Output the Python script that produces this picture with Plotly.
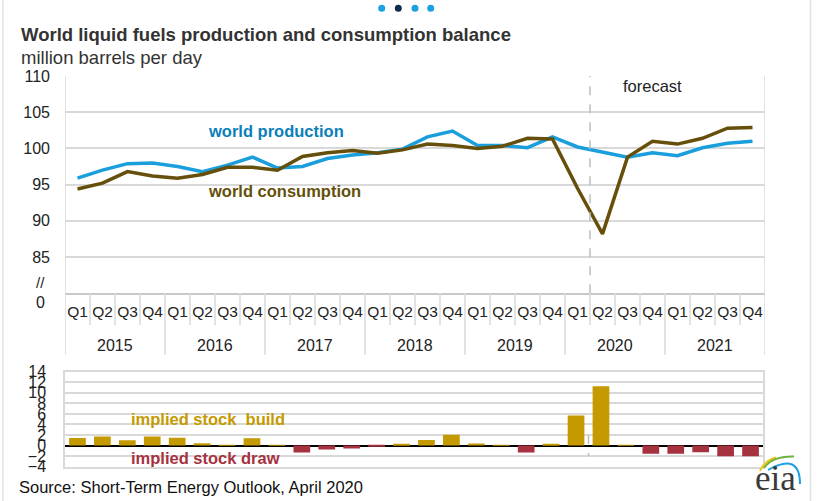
import plotly.graph_objects as go

# ---------------- data ----------------
years = ["2015", "2016", "2017", "2018", "2019", "2020", "2021"]
quarters = ["Q1", "Q2", "Q3", "Q4"]

# world production, million barrels per day (quarterly, 2015Q1..2021Q4)
production = [95.9, 97.0, 97.9, 98.0,
              97.5, 96.8, 97.7, 98.8,
              97.3, 97.5, 98.6, 99.1,
              99.4, 99.9, 101.6, 102.4,
              100.4, 100.4, 100.1, 101.6,
              100.2, 99.5, 98.8, 99.4,
              99.0, 100.1, 100.7, 101.0]

# world consumption
consumption = [94.4, 95.2, 96.8, 96.2,
               95.9, 96.4, 97.4, 97.4,
               97.0, 98.9, 99.4, 99.7,
               99.35, 99.8, 100.6, 100.4,
               100.0, 100.3, 101.4, 101.3,
               94.5, 88.2, 98.8, 101.0,
               100.6, 101.4, 102.8, 102.9]

# implied stock change (build > 0, draw < 0)
stock_change = [1.45, 1.7, 1.0, 1.7,
                1.5, 0.45, 0.05, 1.4,
                0.1, -1.3, -0.75, -0.55,
                -0.05, 0.2, 1.05, 2.05,
                0.4, 0.05, -1.3, 0.25,
                5.7, 11.25, 0.05, -1.55,
                -1.55, -1.25, -2.0, -2.0]

top_ticks = [85, 90, 95, 100, 105, 110]
forecast_start = 21  # index of first forecast quarter (2020 Q2)

# ---------------- styling ----------------
W, H = 825, 501
FONT = "Liberation Sans, Arial, sans-serif"
BLUE = "#1a9fdc"
BROWN = "#654f0a"
GOLD = "#c49a00"
MAROON = "#a6323f"
GRID = "#d9d9d9"
TXT = "#222222"


def px(x):
    return x / W


def py(y):
    return 1 - y / H


X0, X1 = 65, 765
TOP_Y0, TOP_Y1 = 76, 293.3
BOT_Y0, BOT_Y1 = 371.7, 466.7

n = len(production)
idx = list(range(n))
qlabels = [quarters[i % 4] for i in idx]

fig = go.Figure()
fig.add_trace(go.Scatter(x=idx, y=production, mode="lines",
                         line=dict(color=BLUE, width=3.5), xaxis="x", yaxis="y",
                         name="world production"))
fig.add_trace(go.Scatter(x=idx, y=consumption, mode="lines",
                         line=dict(color=BROWN, width=3.5), xaxis="x", yaxis="y",
                         name="world consumption"))
fig.add_trace(go.Bar(x=idx, y=stock_change, width=0.67,
                     marker=dict(color=[GOLD if v >= 0 else MAROON for v in stock_change],
                                 line=dict(width=0)),
                     xaxis="x2", yaxis="y2", name="implied stock change"))

shapes = []
# quarter / year separators below the top panel
for b in range(n + 1):
    xb = b - 0.5
    if b % 4 == 0:
        y_low = 355
        y_high = TOP_Y0 if b in (0, n) else TOP_Y1
    else:
        y_low = 325
        y_high = TOP_Y1
    shapes.append(dict(type="line", xref="x", yref="paper", x0=xb, x1=xb,
                       y0=py(y_low), y1=py(y_high), line=dict(color=GRID, width=1.5)))
# forecast dashed line
shapes.append(dict(type="line", xref="x", yref="paper", x0=forecast_start - 0.5,
                   x1=forecast_start - 0.5, y0=py(TOP_Y1), y1=py(TOP_Y0),
                   line=dict(color="#bdbdbd", width=1.5, dash="dash")))
shapes.append(dict(type="line", xref="x2", yref="y2", x0=forecast_start - 0.5,
                   x1=forecast_start - 0.5, y0=2, y1=-2,
                   line=dict(color="#bdbdbd", width=1.5, dash="dash")))
# page borders
shapes.append(dict(type="line", xref="paper", yref="paper", x0=px(3), x1=px(3), y0=0, y1=1,
                   line=dict(color="#e3e3e3", width=1.5)))
shapes.append(dict(type="line", xref="paper", yref="paper", x0=px(810.5), x1=px(810.5), y0=0, y1=1,
                   line=dict(color="#e3e3e3", width=1.5)))
# pagination dots
for i, cx in enumerate([381.7, 398.3, 415, 430.7]):
    col = "#0d2d4a" if i == 1 else "#1ba1e2"
    shapes.append(dict(type="circle", xref="paper", yref="paper",
                       x0=px(cx - 3.5), x1=px(cx + 3.5), y0=py(8.3 + 3.5), y1=py(8.3 - 3.5),
                       fillcolor=col, line=dict(width=0)))


def qpath(p0, c, p1):
    return "M {} {} Q {} {} {} {}".format(px(p0[0]), py(p0[1]), px(c[0]), py(c[1]),
                                          px(p1[0]), py(p1[1]))


# eia logo arcs
shapes.append(dict(type="path", xref="paper", yref="paper",
                   path=qpath((760, 471), (764, 461), (776, 457.5)),
                   line=dict(color="#f2c511", width=2)))
shapes.append(dict(type="path", xref="paper", yref="paper",
                   path=qpath((764, 468), (772, 456), (794, 456.5)),
                   line=dict(color="#6db33f", width=2)))
shapes.append(dict(type="path", xref="paper", yref="paper",
                   path=qpath((768, 470), (800, 452), (800, 484)),
                   line=dict(color="#1ba1e2", width=2)))

ann = []
# title & subtitle
ann.append(dict(text="<b>World liquid fuels production and consumption balance</b>",
                x=px(19), y=py(34), xanchor="left", yanchor="middle", showarrow=False,
                font=dict(size=18.5, color="#333333")))
ann.append(dict(text="million barrels per day", x=px(19), y=py(57), xanchor="left",
                yanchor="middle", showarrow=False, font=dict(size=18.5, color="#333333")))
# year labels
for k, yr in enumerate(years):
    ann.append(dict(text=yr, xref="x", yref="paper", x=4 * k + 1.5, y=py(345),
                    xanchor="center", yanchor="middle", showarrow=False,
                    font=dict(size=16, color=TXT)))
# axis break marks
ann.append(dict(text="//", x=px(40.5), y=py(282), xanchor="center", yanchor="middle",
                showarrow=False, font=dict(size=15, color=TXT)))
ann.append(dict(text="0", x=px(40.5), y=py(302), xanchor="center", yanchor="middle",
                showarrow=False, font=dict(size=16, color=TXT)))
# series labels
ann.append(dict(text="<b>world production</b>", x=px(206), y=py(131), xanchor="left",
                yanchor="middle", showarrow=False, font=dict(size=16.5, color="#0b7fba")))
ann.append(dict(text="<b>world consumption</b>", x=px(206), y=py(191), xanchor="left",
                yanchor="middle", showarrow=False, font=dict(size=16.5, color=BROWN)))
ann.append(dict(text="forecast", x=px(652), y=py(86), xanchor="center", yanchor="middle",
                showarrow=False, font=dict(size=16.5, color=TXT)))
ann.append(dict(text="<b>implied stock&nbsp; build</b>", x=px(129), y=py(419), xanchor="left",
                yanchor="middle", showarrow=False, font=dict(size=16.5, color=GOLD)))
ann.append(dict(text="<b>implied stock draw</b>", x=px(129), y=py(458), xanchor="left",
                yanchor="middle", showarrow=False, font=dict(size=16.5, color=MAROON)))
ann.append(dict(text="Source: Short-Term Energy Outlook, April 2020", x=px(17), y=py(487),
                xanchor="left", yanchor="middle", showarrow=False,
                font=dict(size=16.5, color="#111111")))
ann.append(dict(text="eia", x=px(775.5), y=py(500), xanchor="center", yanchor="bottom",
                showarrow=False, font=dict(size=35, color="#3a3a3a",
                                           family="Liberation Serif, serif")))
for a in ann:
    a.setdefault("xref", "paper")
    a.setdefault("yref", "paper")

fig.update_layout(
    width=W, height=H,
    margin=dict(l=0, r=0, t=0, b=0),
    paper_bgcolor="white", plot_bgcolor="white",
    showlegend=False,
    font=dict(family=FONT, color=TXT),
    xaxis=dict(domain=[px(X0), px(X1)], range=[-0.5, n - 0.5], anchor="y",
               tickmode="array", tickvals=idx, ticktext=qlabels,
               tickfont=dict(size=15.5, color=TXT), ticks="", ticklabelstandoff=3,
               showgrid=False, zeroline=False, automargin=False,
               showline=True, linecolor="#c8c8c8", linewidth=1.5),
    yaxis=dict(domain=[py(TOP_Y1), py(TOP_Y0)], range=[80, 110], anchor="x",
               tickmode="array", tickvals=top_ticks, automargin=False,
               tickfont=dict(size=16, color=TXT), ticks="", ticklabelstandoff=14,
               showgrid=True, gridcolor=GRID, gridwidth=1.5, zeroline=False,
               showline=False),
    xaxis2=dict(domain=[px(X0), px(X1 - 2)], range=[-0.5, n - 0.5], anchor="y2",
                showticklabels=False, ticks="", showgrid=False, zeroline=False,
                automargin=False,
                showline=True, mirror=True, linecolor=GRID, linewidth=1.5),
    yaxis2=dict(domain=[py(BOT_Y1), py(BOT_Y0)], range=[-4, 14], anchor="x2",
                tickmode="linear", tick0=0, dtick=2, automargin=False,
                tickfont=dict(size=16, color=TXT), ticks="", ticklabelstandoff=14,
                showgrid=True, gridcolor=GRID, gridwidth=1.5,
                zeroline=True, zerolinecolor="#000000", zerolinewidth=1.5,
                showline=True, mirror=True, linecolor=GRID, linewidth=1.5),
    shapes=shapes,
    annotations=ann,
)

fig.write_html("out.html",
               config={"displayModeBar": False},
               post_script="document.body.style.margin='0px';"
                           "document.body.style.overflow='hidden';")
